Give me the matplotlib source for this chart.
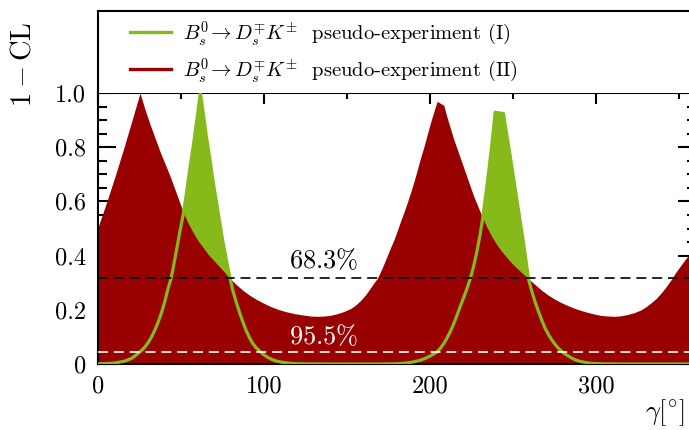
import matplotlib
matplotlib.use('Agg')
import matplotlib.pyplot as plt
from matplotlib.lines import Line2D

plt.rcParams['font.family'] = 'serif'
plt.rcParams['font.serif'] = ['cmr10']
plt.rcParams['mathtext.fontset'] = 'cm'
plt.rcParams['axes.unicode_minus'] = False
plt.rcParams['axes.formatter.use_mathtext'] = True

# pseudo-experiment (II)
gamma_2 = [0, 5, 10, 15, 20, 25, 28, 31, 34, 37, 40, 43, 46, 49, 51.2, 54, 57,
           60, 63, 66, 69, 72, 75, 79.3, 83, 87, 91, 95, 99, 103, 108, 113,
           118, 123, 128, 132, 136, 140, 144, 148, 152, 155, 158, 161, 164,
           166, 168, 170, 172, 174, 176, 178, 180, 182, 184, 186, 188, 190,
           192, 194, 196, 198, 200, 202, 204, 208, 210, 212, 214, 216, 218,
           220, 222, 224, 226, 228, 231.5, 234, 237, 240, 243, 246, 249, 252,
           255, 259, 263, 267, 271, 275, 279, 283, 287, 291, 295, 299, 303,
           307, 311, 315, 319, 323, 327, 330, 333, 336, 339, 342, 345, 348,
           351, 354, 356, 360]
cl_2 = [0.51, 0.599, 0.693, 0.792, 0.895, 1.0, 0.94, 0.885, 0.835, 0.785,
        0.74, 0.695, 0.645, 0.595, 0.557, 0.52, 0.485, 0.455, 0.43, 0.405,
        0.385, 0.365, 0.345, 0.315, 0.293, 0.272, 0.254, 0.239, 0.226, 0.214,
        0.202, 0.193, 0.186, 0.181, 0.177, 0.176, 0.177, 0.18, 0.186, 0.194,
        0.205, 0.218, 0.235, 0.256, 0.282, 0.30, 0.316, 0.342, 0.37, 0.40,
        0.43, 0.458, 0.492, 0.527, 0.56, 0.595, 0.632, 0.672, 0.715, 0.76,
        0.80, 0.845, 0.89, 0.93, 0.969, 0.955, 0.91, 0.87, 0.83, 0.795, 0.76,
        0.725, 0.69, 0.655, 0.62, 0.59, 0.539, 0.505, 0.47, 0.44, 0.415,
        0.393, 0.372, 0.354, 0.337, 0.315, 0.293, 0.272, 0.254, 0.239, 0.226,
        0.215, 0.205, 0.197, 0.19, 0.184, 0.179, 0.177, 0.176, 0.178, 0.183,
        0.19, 0.20, 0.212, 0.226, 0.242, 0.262, 0.285, 0.311, 0.34, 0.365,
        0.39, 0.403, 0.44]

# pseudo-experiment (I)
gamma_1 = [0, 4, 8, 12, 16, 20, 22, 24, 26, 28, 30, 32, 34, 36, 38, 40, 42,
           43.7, 45, 47, 49, 51.2, 53, 55, 57, 59, 61.4, 63, 65, 67, 69, 71,
           73, 75, 77, 79.3, 81, 83, 85, 87, 89, 91, 93, 95, 97, 99, 101, 104,
           107, 110, 115, 120, 130, 140, 170, 180, 186, 190, 194, 197, 200,
           202, 204, 206, 208, 210, 212, 214, 216, 218, 220, 222, 224, 226,
           228, 230, 231.5, 233, 235, 237, 239, 244, 246, 248, 250, 252, 254,
           256, 257.5, 259, 261, 263, 265, 267, 269, 271, 273, 275, 277, 279,
           281, 284, 287, 290, 294, 298, 305, 320, 360]
cl_1 = [0.0006, 0.0014, 0.003, 0.006, 0.011, 0.021, 0.03, 0.04, 0.05, 0.063,
        0.08, 0.10, 0.126, 0.155, 0.19, 0.232, 0.28, 0.315, 0.355, 0.42,
        0.487, 0.557, 0.63, 0.72, 0.80, 0.89, 1.0, 0.93, 0.84, 0.76, 0.675,
        0.60, 0.525, 0.45, 0.385, 0.315, 0.27, 0.228, 0.19, 0.155, 0.123,
        0.097, 0.075, 0.06, 0.048, 0.037, 0.028, 0.018, 0.011, 0.007, 0.003,
        0.001, 0.0003, 0.0, 0.0, 0.001, 0.004, 0.008, 0.014, 0.021, 0.03,
        0.037, 0.045, 0.058, 0.075, 0.096, 0.12, 0.148, 0.18, 0.213, 0.245,
        0.278, 0.315, 0.36, 0.415, 0.48, 0.539, 0.61, 0.705, 0.81, 0.929,
        0.924, 0.845, 0.77, 0.69, 0.61, 0.53, 0.45, 0.385, 0.315, 0.27, 0.23,
        0.195, 0.163, 0.133, 0.11, 0.09, 0.073, 0.059, 0.047, 0.037, 0.026,
        0.016, 0.01, 0.005, 0.002, 0.0005, 0.0, 0.0]

levels = [0.317, 0.045]
level_labels = [r'$68.3\%$', r'$95.5\%$']
level_colours = ['black', 'white']

xticks = [0, 100, 200, 300]
xticklabels = ['0', '100', '200', '300']
yticks = [0, 0.2, 0.4, 0.6, 0.8, 1.0]
yticklabels = ['0', '0.2', '0.4', '0.6', '0.8', '1.0']

legend_labels = [r'$B_s^0\!\rightarrow D_s^{\mp}K^{\pm}$  pseudo-experiment (I)',
                 r'$B_s^0\!\rightarrow D_s^{\mp}K^{\pm}$  pseudo-experiment (II)']

RED = '#990000'
GREEN = '#86b91a'

W, H = 689, 430
fig = plt.figure(figsize=(W / 100, H / 100), dpi=100)

left, right = 98.5, 696
bottom, top, legtop = 364, 93, 11
ax = fig.add_axes([left / W, 1 - bottom / H, (right - left) / W, (bottom - top) / H])
axl = fig.add_axes([left / W, 1 - top / H, (right - left) / W, (top - legtop) / H])

ax.fill_between(gamma_1, 0, cl_1, color=GREEN, lw=0, zorder=1)
ax.fill_between(gamma_2, 0, cl_2, color=RED, lw=0, zorder=2)
ax.plot(gamma_1, cl_1, color=GREEN, lw=2.3, zorder=3)

for lev, lab, col in zip(levels, level_labels, level_colours):
    ax.axhline(lev, color=col, lw=1.2, dashes=(6, 3.5), zorder=4)
    ax.text(135.5, lev + 0.038 if col == 'black' else lev + 0.03, lab,
            color=col, fontsize=19, ha='center', va='baseline', zorder=5)

ax.set_xlim(0, 360)
ax.set_ylim(0, 1.0)
ax.set_xticks(xticks)
ax.set_xticklabels(xticklabels)
ax.set_xticks([50, 150, 250, 350], minor=True)
ax.set_yticks(yticks)
ax.set_yticklabels(yticklabels)
ax.set_yticks([0.05 * i for i in range(21) if i % 4 != 0], minor=True)

ax.tick_params(axis='both', which='both', direction='in', top=True, right=True,
               labelsize=17.5, width=1.5)
ax.tick_params(axis='x', which='major', length=8, pad=8)
ax.tick_params(axis='x', which='minor', length=4)
ax.tick_params(axis='y', which='major', length=13, pad=9)
ax.tick_params(axis='y', which='minor', length=6.5)
for s in ax.spines.values():
    s.set_linewidth(1.5)

axl.set_xticks([])
axl.set_yticks([])
axl.spines['bottom'].set_visible(False)
for s in axl.spines.values():
    s.set_linewidth(1.5)

handles = [Line2D([], [], color=GREEN, lw=2.4), Line2D([], [], color=RED, lw=2.4)]
axl.legend(handles, legend_labels, loc='center left',
           bbox_to_anchor=((130 - left) / (right - left), 0.5),
           frameon=False, fontsize=14.8, handlelength=2.0, handletextpad=0.6,
           labelspacing=0.4, borderpad=0, borderaxespad=0)

fig.text(23 / W, 1 - 21 / H, r'$1-\mathrm{CL}$', rotation=90, ha='center',
         va='top', fontsize=20.5)
fig.text(684 / W, 1 - 428 / H, r'$\gamma[{}^{{\circ}}]$', ha='right', va='bottom',
         fontsize=19)

fig.savefig('out.png', dpi=100)
